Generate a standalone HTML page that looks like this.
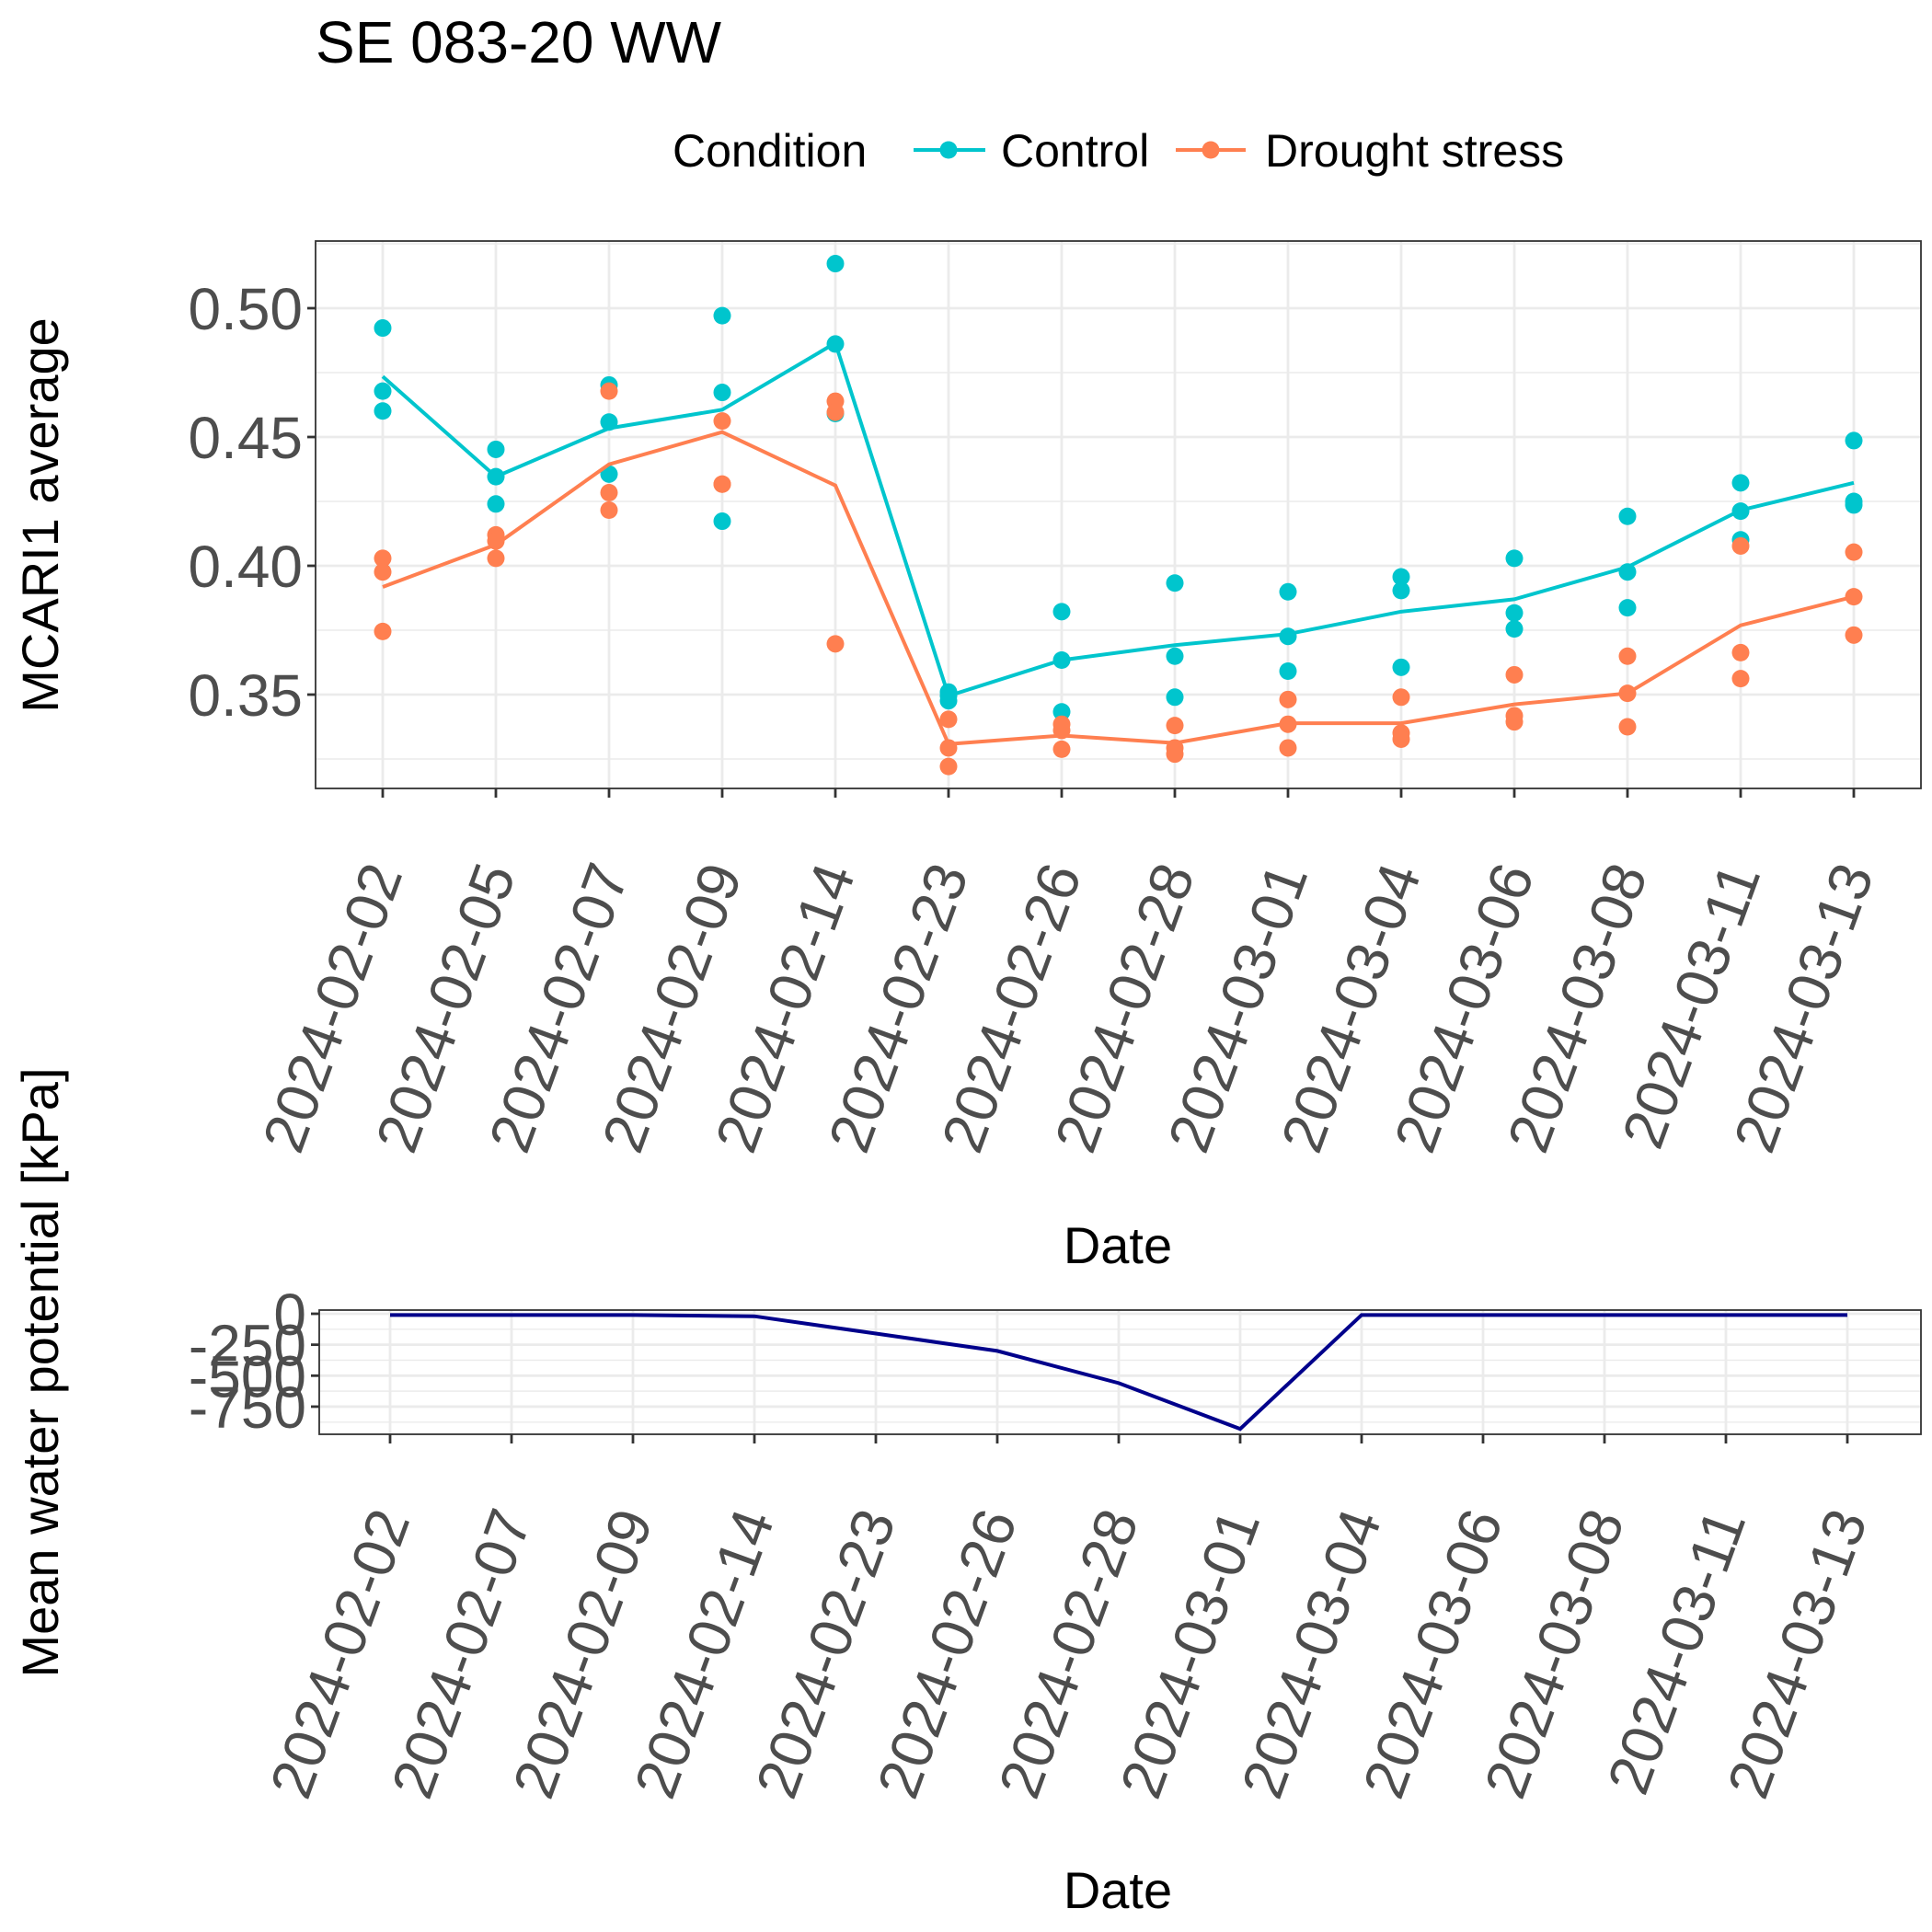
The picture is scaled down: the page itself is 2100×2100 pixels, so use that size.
<!DOCTYPE html>
<html><head><meta charset="utf-8"><style>
html,body{margin:0;padding:0;background:#fff}
svg{display:block;font-family:"Liberation Sans",sans-serif}
</style></head><body>
<svg id="chart" width="2100" height="2100" viewBox="0 0 2100 2100">
<text x="343" y="68" font-size="64" fill="#000">SE 083-20 WW</text>
<g>
<text x="731" y="181" font-size="50" fill="#000">Condition</text>
<g>
<line x1="993" y1="163" x2="1071" y2="163" stroke="#00c5cd" stroke-width="4"/>
<circle cx="1031" cy="163" r="9.5" fill="#00c5cd"/>
<text x="1088" y="181" font-size="50" fill="#000">Control</text></g>
<g>
<line x1="1278" y1="163" x2="1354" y2="163" stroke="#ff7f50" stroke-width="4"/>
<circle cx="1316" cy="163" r="9.5" fill="#ff7f50"/>
<text x="1375" y="181" font-size="50" fill="#000">Drought stress</text></g>
</g>
<text transform="translate(63,560) rotate(-90)" text-anchor="middle" font-size="56" fill="#000">MCARI1 average</text>
<text transform="translate(63,1492) rotate(-90)" text-anchor="middle" font-size="56" fill="#000">Mean water potential [kPa]</text>
<text x="1215" y="1373" text-anchor="middle" font-size="56" fill="#000">Date</text>
<text x="1215" y="2074" text-anchor="middle" font-size="56" fill="#000">Date</text>
<g id="top"></g>
<g id="bot"></g>
</svg>
<script>
const dates1=["2024-02-02","2024-02-05","2024-02-07","2024-02-09","2024-02-14","2024-02-23","2024-02-26","2024-02-28","2024-03-01","2024-03-04","2024-03-06","2024-03-08","2024-03-11","2024-03-13"];
const controlMean=[0.4735,0.4346,0.4534,0.4606,0.4865,0.3495,0.3634,0.3692,0.3735,0.3822,0.3870,0.3995,0.4216,0.4322];
const droughtMean=[0.3918,0.4082,0.4394,0.4519,0.4312,0.3308,0.3341,0.3312,0.3389,0.3389,0.3462,0.3505,0.3769,0.3880];
const controlPts=[[0.4923,0.4678,0.4601],[0.4452,0.4346,0.4240],[0.4702,0.4558,0.4356],[0.4971,0.4673,0.4173],[0.5173,0.4861,0.4591],[0.3510,0.3476,0.3495],[0.3822,0.3634,0.3433],[0.3933,0.3649,0.3490],[0.3899,0.3726,0.3591],[0.3957,0.3904,0.3606],[0.4029,0.3817,0.3755],[0.4192,0.3976,0.3837],[0.4322,0.4212,0.4101],[0.4486,0.4250,0.4236]];
const droughtPts=[[0.4029,0.3976,0.3745],[0.4120,0.4096,0.4029],[0.4678,0.4284,0.4216],[0.4562,0.4317,0.4317],[0.4639,0.4596,0.3697],[0.3404,0.3293,0.3221],[0.3385,0.3361,0.3288],[0.3380,0.3293,0.3269],[0.3481,0.3385,0.3293],[0.3490,0.3351,0.3327],[0.3577,0.3418,0.3394],[0.3649,0.3505,0.3375],[0.4077,0.3663,0.3562],[0.4053,0.3880,0.3731]];
const yTicks1=[0.35,0.40,0.45,0.50];
const yTickLabels1=["0.35","0.40","0.45","0.50"];
const yMinor1=[0.325,0.375,0.425,0.475,0.525];
const dates2=["2024-02-02","2024-02-07","2024-02-09","2024-02-14","2024-02-23","2024-02-26","2024-02-28","2024-03-01","2024-03-04","2024-03-06","2024-03-08","2024-03-11","2024-03-13"];
const waterPot=[-10,-10,-10,-20,-160,-300,-560,-930,-10,-10,-10,-10,-10];
const yTicks2=[0,-250,-500,-750];
const yTickLabels2=["0","-250","-500","-750"];
const yMinor2=[-125,-375,-625,-875];

const NS="http://www.w3.org/2000/svg";
function mk(p,t,a){const e=document.createElementNS(NS,t);for(const k in a)e.setAttribute(k,a[k]);p.appendChild(e);return e;}

const P1={l:343,r:2088,t:262,b:857};
const x1=i=>416+i*(2015-416)/(dates1.length-1);
const y1=v=>335+(0.50-v)/0.05*140;
const g1=document.getElementById('top');
const bg1=mk(g1,'rect',{x:P1.l,y:P1.t,width:P1.r-P1.l,height:P1.b-P1.t,fill:'#fff'});


yMinor1.forEach(v=>{if(y1(v)>P1.t&&y1(v)<P1.b){const l=mk(g1,'line',{x1:P1.l,x2:P1.r,y1:y1(v),y2:y1(v),stroke:'#ebebeb','stroke-width':1.4});}});
yTicks1.forEach((v,i)=>{const l=mk(g1,'line',{x1:P1.l,x2:P1.r,y1:y1(v),y2:y1(v),stroke:'#ebebeb','stroke-width':2.8});
 mk(g1,'line',{x1:P1.l-9,x2:P1.l,y1:y1(v),y2:y1(v),stroke:'#333','stroke-width':2.8});
 const t=mk(g1,'text',{x:P1.l-14,y:y1(v)+23,'text-anchor':'end','font-size':64,fill:'#4d4d4d'});t.textContent=yTickLabels1[i];
 });
dates1.forEach((d,i)=>{const l=mk(g1,'line',{x1:x1(i),x2:x1(i),y1:P1.t,y2:P1.b,stroke:'#ebebeb','stroke-width':2.8});
 mk(g1,'line',{x1:x1(i),x2:x1(i),y1:P1.b,y2:P1.b+10,stroke:'#333','stroke-width':2.8});
 const t=mk(g1,'text',{transform:`translate(${x1(i)+22},${P1.b+92}) rotate(-70)`,'text-anchor':'end','font-size':64,fill:'#4d4d4d'});t.textContent=d;
 });
function series(g,means,pts,col,name){
 const pl=mk(g,'polyline',{points:means.map((v,i)=>x1(i)+','+y1(v)).join(' '),fill:'none',stroke:col,'stroke-width':4});
 
 pts.forEach((arr,i)=>arr.forEach(v=>{const c=mk(g,'circle',{cx:x1(i),cy:y1(v),r:9.5,fill:col});}));
}
series(g1,controlMean,controlPts,'#00c5cd','control');
series(g1,droughtMean,droughtPts,'#ff7f50','drought');
mk(g1,'rect',{x:P1.l,y:P1.t,width:P1.r-P1.l,height:P1.b-P1.t,fill:'none',stroke:'#333','stroke-width':1.8});

const P2={l:347,r:2088,t:1424,b:1559};
const x2=i=>424+i*(2008-424)/(dates2.length-1);
const y2=v=>1428-v/250*33.65;
const g2=document.getElementById('bot');
const bg2=mk(g2,'rect',{x:P2.l,y:P2.t,width:P2.r-P2.l,height:P2.b-P2.t,fill:'#fff'});


yMinor2.forEach(v=>{const l=mk(g2,'line',{x1:P2.l,x2:P2.r,y1:y2(v),y2:y2(v),stroke:'#ebebeb','stroke-width':1.4});});
yTicks2.forEach((v,i)=>{const l=mk(g2,'line',{x1:P2.l,x2:P2.r,y1:y2(v),y2:y2(v),stroke:'#ebebeb','stroke-width':2.8});
 mk(g2,'line',{x1:P2.l-9,x2:P2.l,y1:y2(v),y2:y2(v),stroke:'#333','stroke-width':2.8});
 const t=mk(g2,'text',{x:P2.l-14,y:y2(v)+23,'text-anchor':'end','font-size':64,fill:'#4d4d4d'});t.textContent=yTickLabels2[i];
 });
dates2.forEach((d,i)=>{const l=mk(g2,'line',{x1:x2(i),x2:x2(i),y1:P2.t,y2:P2.b,stroke:'#ebebeb','stroke-width':2.8});
 mk(g2,'line',{x1:x2(i),x2:x2(i),y1:P2.b,y2:P2.b+10,stroke:'#333','stroke-width':2.8});
 const t=mk(g2,'text',{transform:`translate(${x2(i)+22},${P2.b+92}) rotate(-70)`,'text-anchor':'end','font-size':64,fill:'#4d4d4d'});t.textContent=d;
 });
const wl=mk(g2,'polyline',{points:waterPot.map((v,i)=>x2(i)+','+y2(v)).join(' '),fill:'none',stroke:'#00008b','stroke-width':4});


mk(g2,'rect',{x:P2.l,y:P2.t,width:P2.r-P2.l,height:P2.b-P2.t,fill:'none',stroke:'#333','stroke-width':1.8});
</script>
</body></html>
